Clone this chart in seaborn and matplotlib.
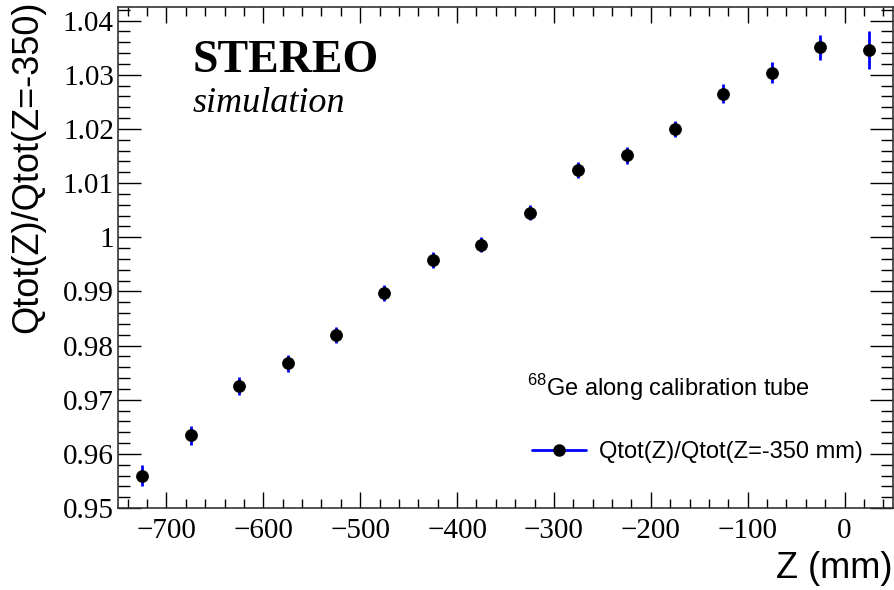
import numpy as np
import pandas as pd
import matplotlib.pyplot as plt
from matplotlib.lines import Line2D
from matplotlib.ticker import MultipleLocator
import seaborn as sns

# posicoes Z (mm) e razao Qtot(Z)/Qtot(Z=-350)
z_mm = [-725, -675, -625, -575, -525, -475, -425, -375, -325, -275, -225, -175, -125, -75, -25, 25]
ratio = [0.9560, 0.9634, 0.9725, 0.9767, 0.9820, 0.9897, 0.9958, 0.9986,
         1.0045, 1.0124, 1.0151, 1.0200, 1.0265, 1.0304, 1.0351, 1.0346]
ratio_err = [0.0019, 0.0017, 0.0016, 0.0015, 0.0015, 0.0015, 0.0015, 0.0014,
             0.0014, 0.0015, 0.0015, 0.0015, 0.0018, 0.0019, 0.0023, 0.0035]

x_ticks = [-700, -600, -500, -400, -300, -200, -100, 0]
y_ticks = [0.95, 0.96, 0.97, 0.98, 0.99, 1.00, 1.01, 1.02, 1.03, 1.04]
y_labels = ["0.95", "0.96", "0.97", "0.98", "0.99", "1", "1.01", "1.02", "1.03", "1.04"]

dados = pd.DataFrame({"Z": z_mm, "ratio": ratio, "err": ratio_err})

sns.set_style("ticks")
plt.rcParams["font.family"] = ["Liberation Serif", "DejaVu Serif"]
plt.rcParams["text.color"] = "black"
plt.rcParams["axes.labelcolor"] = "black"
plt.rcParams["xtick.color"] = "black"
plt.rcParams["ytick.color"] = "black"
plt.rcParams["mathtext.fontset"] = "custom"
plt.rcParams["mathtext.rm"] = "Liberation Sans"

fig = plt.figure(figsize=(8.95, 5.9), dpi=100)
ax = fig.add_axes([118 / 895, 1 - 508 / 590, 775 / 895, 501 / 590])

ax.errorbar(dados["Z"], dados["ratio"], yerr=dados["err"], fmt="none",
            ecolor="blue", elinewidth=2, zorder=2)
sns.scatterplot(data=dados, x="Z", y="ratio", color="black", edgecolor="black",
                s=75, linewidth=0.5, zorder=3, ax=ax)

ax.set_xlim(-750, 50)
ax.set_ylim(0.95, 1.0425)
ax.set_xticks(x_ticks)
ax.set_xticklabels([str(v).replace("-", "\u2212") for v in x_ticks])
ax.set_yticks(y_ticks)
ax.set_yticklabels(y_labels)
ax.xaxis.set_minor_locator(MultipleLocator(20))
ax.yaxis.set_minor_locator(MultipleLocator(0.002))

ax.tick_params(axis="x", which="major", direction="in", length=11.5, width=1, top=True, labelsize=21, pad=7)
ax.tick_params(axis="x", which="minor", direction="in", length=6.5, width=1, top=True)
ax.tick_params(axis="y", which="major", direction="in", length=16.5, width=1, right=True, labelsize=21, pad=3)
ax.tick_params(axis="y", which="minor", direction="in", length=8.6, width=1, right=True)
for s in ax.spines.values():
    s.set_linewidth(1.2)
    s.set_color("#333333")

ax.set_xlabel("Z (mm)", fontsize=26, family="Liberation Sans", loc="right")
ax.xaxis.set_label_coords(1.0, -0.085)
ax.set_ylabel("Qtot(Z)/Qtot(Z=-350)", fontsize=26, family="Liberation Sans", loc="top")
ax.yaxis.set_label_coords(-0.094, 1.012)

fig.text(193 / 895, 1 - 72 / 590, "STEREO", fontsize=33, fontweight="bold", va="baseline")
fig.text(193 / 895, 1 - 112 / 590, "simulation", fontsize=26, style="italic", va="baseline")

fig.text(527 / 895, 1 - 388 / 590, r"$^{68}$Ge along calibration tube", fontsize=17,
         family="Liberation Sans", va="center")

handle = Line2D([], [], color="blue", lw=2, marker="o", markersize=8,
                markerfacecolor="black", markeredgecolor="black")
ax.legend([handle], ["Qtot(Z)/Qtot(Z=-350 mm)"], loc="center left",
          bbox_to_anchor=(532 / 895, 1 - 452 / 590), bbox_transform=fig.transFigure,
          frameon=False, borderpad=0, borderaxespad=0, handlelength=2.3, handletextpad=0.55,
          prop={"family": "Liberation Sans", "size": 17})

fig.savefig("out.png", dpi=100)
